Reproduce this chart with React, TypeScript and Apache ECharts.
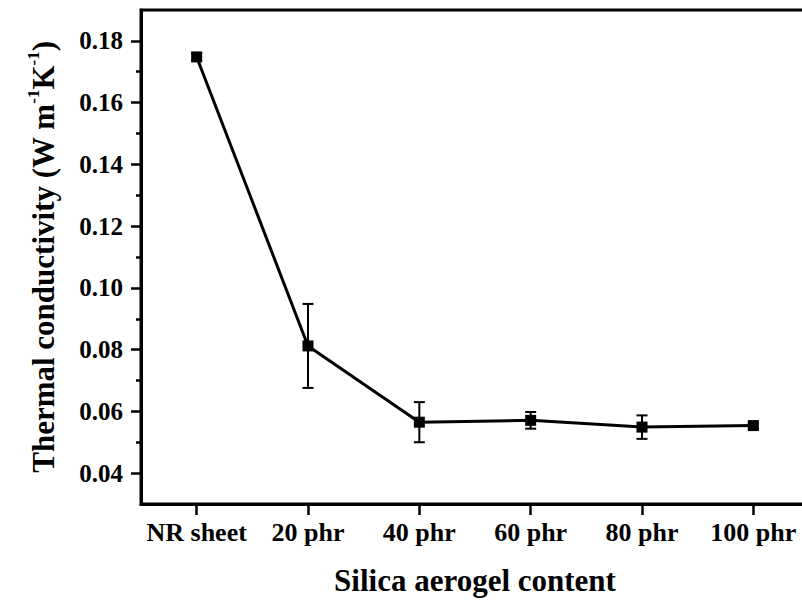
import React, { useEffect, useRef } from "react";
import * as echarts from "echarts";

const categories = ["NR sheet", "20 phr", "40 phr", "60 phr", "80 phr", "100 phr"];
const conductivity = [0.1748, 0.0812, 0.0565, 0.0571, 0.0549, 0.0554];
const errors = [0.0012, 0.0136, 0.0065, 0.0027, 0.0038, 0.0008];
const majorTicks = [0.04, 0.06, 0.08, 0.1, 0.12, 0.14, 0.16, 0.18];
const minorTicks = [0.05, 0.07, 0.09, 0.11, 0.13, 0.15, 0.17];

const FONT = "Liberation Serif";

export default function App() {
  const ref = useRef<HTMLDivElement>(null);
  useEffect(() => {
    if (!ref.current) return;
    const chart = echarts.init(ref.current, null, { renderer: "svg" });
    const errData = categories.map((_, i) => [i, conductivity[i], errors[i]]);
    chart.setOption({
      animation: false,
      backgroundColor: "#ffffff",
      textStyle: { fontFamily: FONT, fontWeight: "bold", color: "#000" },
      grid: {
        left: 141,
        top: 10,
        right: 1,
        bottom: 97,
        show: true,
        borderColor: "#000",
        borderWidth: 3,
        backgroundColor: "transparent",
      },
      xAxis: {
        type: "category",
        data: categories,
        boundaryGap: true,
        axisLine: { show: true, lineStyle: { color: "#000", width: 3 } },
        axisTick: {
          show: true,
          alignWithLabel: true,
          interval: 0,
          length: 11,
          inside: false,
          lineStyle: { color: "#000", width: 2.5 },
        },
        axisLabel: {
          interval: 0,
          color: "#000",
          fontFamily: FONT,
          fontWeight: "bold",
          fontSize: 26,
          margin: 15,
        },
        splitLine: { show: false },
        name: "Silica aerogel content",
        nameLocation: "middle",
        nameGap: 61,
        nameTextStyle: { color: "#000", fontFamily: FONT, fontWeight: "bold", fontSize: 31 },
      },
      yAxis: [
        {
          type: "value",
          min: 0.03,
          max: 0.19,
          axisLine: { show: true, lineStyle: { color: "#000", width: 3 } },
          axisTick: {
            show: true,
            inside: false,
            length: 10,
            customValues: majorTicks,
            lineStyle: { color: "#000", width: 2.5 },
          },
          axisLabel: {
            customValues: majorTicks,
            color: "#000",
            fontFamily: FONT,
            fontWeight: "bold",
            fontSize: 25,
            margin: 18,
            formatter: (v: number) => v.toFixed(2),
          },
          splitLine: { show: false },
          name: "Thermal conductivity (W m{sup|-1}K{sup|-1})",
          nameLocation: "middle",
          nameGap: 80,
          nameRotate: 90,
          nameTextStyle: {
            color: "#000",
            fontFamily: FONT,
            fontWeight: "bold",
            fontSize: 31,
            lineHeight: 36,
            rich: {
              sup: {
                color: "#000",
                fontFamily: FONT,
                fontWeight: "bold",
                fontSize: 17,
                lineHeight: 36,
                verticalAlign: "top",
              },
            },
          },
        },
        {
          type: "value",
          min: 0.03,
          max: 0.19,
          position: "left",
          axisLine: { show: false },
          axisTick: {
            show: true,
            inside: false,
            length: 5,
            customValues: minorTicks,
            lineStyle: { color: "#000", width: 2.5 },
          },
          axisLabel: { show: false },
          splitLine: { show: false },
        },
      ],
      series: [
        {
          type: "custom",
          xAxisIndex: 0,
          yAxisIndex: 0,
          data: errData,
          encode: { x: 0, y: 1 },
          z: 3,
          renderItem: (params: any, api: any) => {
            const x = api.value(0);
            const y = api.value(1);
            const e = api.value(2);
            const top = api.coord([x, y + e]);
            const bot = api.coord([x, y - e]);
            const cap = 5.5;
            const style = { stroke: "#000", lineWidth: 2 };
            return {
              type: "group",
              children: [
                { type: "line", shape: { x1: top[0], y1: top[1], x2: bot[0], y2: bot[1] }, style },
                { type: "line", shape: { x1: top[0] - cap, y1: top[1], x2: top[0] + cap, y2: top[1] }, style },
                { type: "line", shape: { x1: bot[0] - cap, y1: bot[1], x2: bot[0] + cap, y2: bot[1] }, style },
              ],
            };
          },
        },
        {
          type: "line",
          data: conductivity,
          symbol: "rect",
          symbolSize: 11,
          z: 4,
          lineStyle: { color: "#000", width: 3 },
          itemStyle: { color: "#000" },
        },
      ],
    });
    return () => chart.dispose();
  }, []);
  return (
    <div style={{ position: "fixed", left: 0, top: 0, width: 802, height: 601, overflow: "hidden", background: "#fff" }}>
      <div ref={ref} style={{ width: 810, height: 601 }} />
    </div>
  );
}
